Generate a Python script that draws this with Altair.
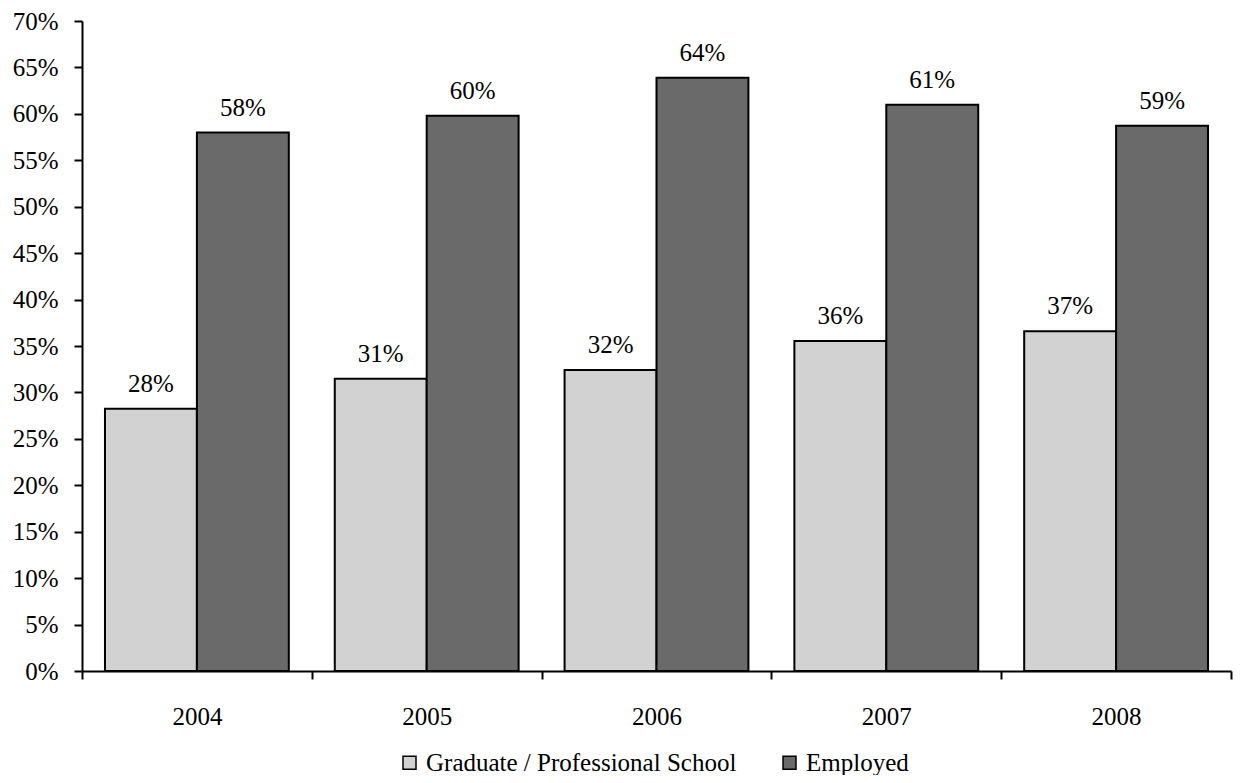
import altair as alt
import pandas as pd

years = ["2004", "2005", "2006", "2007", "2008"]
series = ["Graduate / Professional School", "Employed"]
grad = [0.2824, 0.3146, 0.3242, 0.3554, 0.3660]
employed = [0.5798, 0.5980, 0.6388, 0.6098, 0.5873]
y_ticks = [0.0, 0.05, 0.10, 0.15, 0.20, 0.25, 0.30, 0.35, 0.40, 0.45, 0.50, 0.55, 0.60, 0.65, 0.70]

rows = []
for i, y in enumerate(years):
    rows.append({"year": y, "series": series[0], "value": grad[i]})
    rows.append({"year": y, "series": series[1], "value": employed[i]})
df = pd.DataFrame(rows)

FONT = "Times New Roman, Liberation Serif, serif"
FS = 25

x = alt.X("year:N", title=None, sort=years,
          scale=alt.Scale(paddingInner=0, paddingOuter=0),
          axis=alt.Axis(labelAngle=0, tickBand="extent", tickSize=8, tickWidth=2,
                        domainWidth=2, domainColor="black", tickColor="black",
                        labelFont=FONT, labelFontSize=FS, labelColor="black",
                        labelPadding=25))
y = alt.Y("value:Q", title=None,
          scale=alt.Scale(domain=[0, 0.7], nice=False),
          axis=alt.Axis(format=".0%", values=y_ticks,
                        tickSize=8, tickWidth=2, domainWidth=2, domainColor="black",
                        tickColor="black", grid=False, labelFont=FONT,
                        labelFontSize=FS, labelColor="black", labelPadding=16))
xo = alt.XOffset("series:N", sort=series,
                 scale=alt.Scale(paddingInner=0, paddingOuter=0.25))

bars = alt.Chart(df).mark_bar(stroke="black", strokeWidth=2).encode(
    x=x, y=y, xOffset=xo,
    color=alt.Color("series:N", sort=series,
                    scale=alt.Scale(domain=series, range=["#d2d2d2", "#6a6a6a"]),
                    legend=alt.Legend(orient="none", legendX=315, legendY=729,
                                      direction="horizontal", title=None,
                                      labelFont=FONT, labelFontSize=FS, labelColor="black",
                                      labelLimit=0, labelOffset=4,
                                      symbolType="square", symbolSize=169,
                                      symbolStrokeColor="black", symbolStrokeWidth=1.5,
                                      columnPadding=40)),
)

labels = alt.Chart(df).mark_text(font=FONT, fontSize=FS, color="black",
                                 baseline="alphabetic", dy=-17).encode(
    x=x, y=y, xOffset=xo,
    text=alt.Text("value:Q", format=".0%"),
)

chart = (bars + labels).properties(
    width=1149, height=650,
    autosize=alt.AutoSizeParams(type="none"),
    padding={"left": 74, "top": 13, "right": 2, "bottom": 104},
).configure_view(stroke=None)
chart.save("out.html", embed_options={"renderer": "svg", "actions": False})
